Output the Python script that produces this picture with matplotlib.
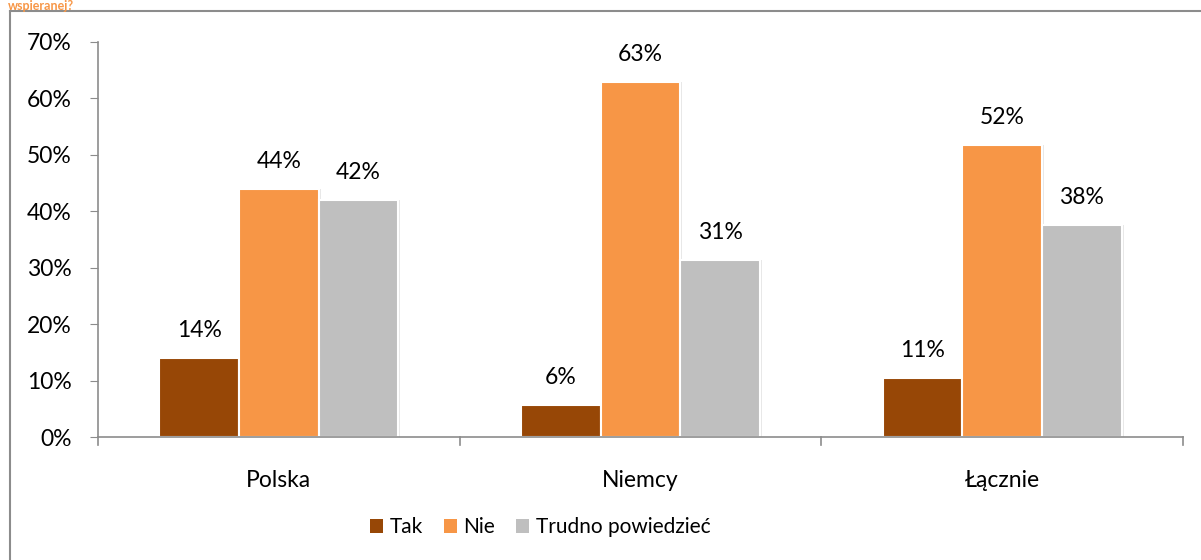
import matplotlib
matplotlib.use("Agg")
import matplotlib.pyplot as plt
import numpy as np
from matplotlib.lines import Line2D
from matplotlib.patches import Patch

plt.rcParams['font.family'] = ['Lato', 'DejaVu Sans']

categories = ["Polska", "Niemcy", "Łącznie"]
series_names = ["Tak", "Nie", "Trudno powiedzieć"]
tak = [14.0, 5.7, 10.5]
nie = [44.0, 62.9, 51.8]
trudno = [42.0, 31.4, 37.6]
labels_tak = ["14%", "6%", "11%"]
labels_nie = ["44%", "63%", "52%"]
labels_trudno = ["42%", "31%", "38%"]
colors = ["#974706", "#F79646", "#BFBFBF"]

W, H = 1201, 560
FS = 16.5
fig = plt.figure(figsize=(W / 100, H / 100), dpi=100)

# frame lines
fig.add_artist(Line2D([10 / W, 10 / W], [0, 1 - 11 / H], color="#8C8C8C", lw=1.5))
fig.add_artist(Line2D([10 / W, 1], [1 - 11 / H, 1 - 11 / H], color="#8C8C8C", lw=1.5))
fig.text(8 / W, 1 - 0.5 / H, "wspieranej?", color="#F79646", fontsize=9,
         fontweight="bold", va="top", ha="left")

ax = fig.add_axes([98 / W, (H - 437) / H, (1183 - 98) / W, (437 - 42) / H])

x = np.arange(len(categories))
bw = 0.22
vals = [tak, nie, trudno]
labs = [labels_tak, labels_nie, labels_trudno]
for i, (v, lab, c, name) in enumerate(zip(vals, labs, colors, series_names)):
    pos = x + (i - 1) * bw
    # subtle shadow
    ax.bar(pos + 0.006, v, bw, color="#D9D9D9", alpha=0.6, zorder=1, linewidth=0)
    ax.bar(pos, v, bw, color=c, edgecolor="white", linewidth=1.5, zorder=2, label=name)
    for p, val, t in zip(pos, v, lab):
        ax.text(p, val + 3.0, t, ha="center", va="bottom", fontsize=FS, color="black")

ax.set_xlim(-0.5, 2.5)
ax.set_ylim(0, 70)
ax.set_yticks(np.arange(0, 71, 10))
ax.set_yticklabels([f"{t}%" for t in range(0, 71, 10)], fontsize=FS)
ax.set_xticks(x)
ax.set_xticklabels(categories, fontsize=FS)
ax.tick_params(axis="x", length=0, pad=24)
ax.tick_params(axis="y", length=6, color="#8C8C8C", pad=13)
for b in [-0.5, 0.5, 1.5, 2.5]:
    ax.plot([b, b], [0, -1.5], color="#8C8C8C", lw=1.2, clip_on=False, zorder=3)
for s in ["top", "right"]:
    ax.spines[s].set_visible(False)
ax.spines["left"].set_color("#8C8C8C")
ax.spines["bottom"].set_color("#8C8C8C")
ax.spines["left"].set_linewidth(1.2)
ax.spines["bottom"].set_linewidth(1.2)

handles = [Patch(facecolor=c, edgecolor="none") for c in colors]
fig.legend(handles, series_names, loc="center", bbox_to_anchor=(540 / W, 1 - 527 / H),
           ncol=3, frameon=False, fontsize=15, handlelength=0.65, handleheight=0.65,
           handletextpad=0.3, columnspacing=1.0)

fig.savefig("out.png", dpi=100)
